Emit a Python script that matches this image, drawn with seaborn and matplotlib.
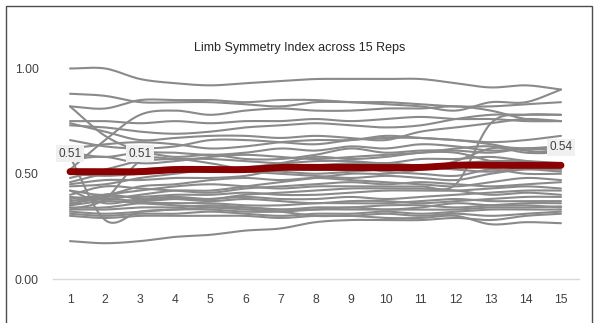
import numpy as np
import pandas as pd
import matplotlib
matplotlib.use("Agg")
import matplotlib.pyplot as plt
from matplotlib.patches import Rectangle
import seaborn as sns

# Repetition numbers on the x axis
reps = list(range(1, 16))

# Limb Symmetry Index per athlete, one list per athlete (reps 1..15)
athlete_01 = [1.00, 1.00, 0.95, 0.93, 0.92, 0.93, 0.94, 0.95, 0.95, 0.95, 0.95, 0.93, 0.91, 0.92, 0.90]
athlete_02 = [0.88, 0.87, 0.84, 0.84, 0.84, 0.83, 0.82, 0.84, 0.84, 0.84, 0.83, 0.82, 0.82, 0.83, 0.84]
athlete_03 = [0.82, 0.81, 0.85, 0.85, 0.85, 0.84, 0.85, 0.85, 0.84, 0.83, 0.82, 0.80, 0.84, 0.84, 0.90]
athlete_04 = [0.82, 0.68, 0.61, 0.60, 0.59, 0.60, 0.62, 0.61, 0.63, 0.62, 0.64, 0.63, 0.61, 0.62, 0.63]
athlete_05 = [0.75, 0.75, 0.74, 0.75, 0.74, 0.75, 0.75, 0.76, 0.75, 0.76, 0.77, 0.76, 0.76, 0.75, 0.75]
athlete_06 = [0.73, 0.72, 0.70, 0.69, 0.70, 0.72, 0.73, 0.74, 0.73, 0.72, 0.73, 0.76, 0.78, 0.78, 0.78]
athlete_07 = [0.74, 0.70, 0.66, 0.67, 0.68, 0.68, 0.67, 0.68, 0.67, 0.66, 0.70, 0.72, 0.74, 0.76, 0.75]
athlete_08 = [0.66, 0.63, 0.62, 0.63, 0.66, 0.66, 0.65, 0.64, 0.66, 0.67, 0.67, 0.66, 0.65, 0.66, 0.68]
athlete_09 = [0.52, 0.66, 0.78, 0.80, 0.78, 0.80, 0.81, 0.80, 0.80, 0.81, 0.81, 0.82, 0.80, 0.76, 0.75]
athlete_10 = [0.58, 0.28, 0.32, 0.33, 0.34, 0.34, 0.33, 0.33, 0.34, 0.33, 0.34, 0.36, 0.35, 0.35, 0.34]
athlete_11 = [0.60, 0.58, 0.60, 0.58, 0.59, 0.57, 0.57, 0.59, 0.62, 0.60, 0.61, 0.61, 0.60, 0.62, 0.61]
athlete_12 = [0.57, 0.58, 0.55, 0.56, 0.58, 0.59, 0.58, 0.57, 0.58, 0.59, 0.60, 0.62, 0.63, 0.60, 0.60]
athlete_13 = [0.48, 0.52, 0.56, 0.57, 0.57, 0.56, 0.55, 0.56, 0.56, 0.55, 0.57, 0.57, 0.58, 0.56, 0.54]
athlete_14 = [0.46, 0.50, 0.52, 0.53, 0.52, 0.53, 0.55, 0.58, 0.57, 0.58, 0.60, 0.60, 0.56, 0.53, 0.52]
athlete_15 = [0.44, 0.45, 0.48, 0.50, 0.52, 0.51, 0.50, 0.49, 0.48, 0.49, 0.48, 0.47, 0.50, 0.52, 0.51]
athlete_16 = [0.42, 0.40, 0.44, 0.45, 0.47, 0.48, 0.47, 0.48, 0.47, 0.46, 0.45, 0.44, 0.46, 0.48, 0.47]
athlete_17 = [0.40, 0.44, 0.43, 0.42, 0.41, 0.43, 0.44, 0.45, 0.46, 0.45, 0.46, 0.45, 0.44, 0.45, 0.46]
athlete_18 = [0.37, 0.39, 0.39, 0.40, 0.40, 0.41, 0.40, 0.40, 0.41, 0.42, 0.42, 0.42, 0.43, 0.44, 0.43]
athlete_19 = [0.36, 0.38, 0.37, 0.38, 0.38, 0.39, 0.38, 0.38, 0.39, 0.38, 0.39, 0.40, 0.41, 0.42, 0.42]
athlete_20 = [0.35, 0.40, 0.38, 0.38, 0.37, 0.38, 0.37, 0.36, 0.37, 0.37, 0.36, 0.37, 0.38, 0.39, 0.39]
athlete_21 = [0.34, 0.34, 0.36, 0.36, 0.36, 0.35, 0.35, 0.36, 0.36, 0.36, 0.37, 0.38, 0.37, 0.37, 0.37]
athlete_22 = [0.33, 0.33, 0.34, 0.34, 0.35, 0.34, 0.33, 0.34, 0.34, 0.35, 0.35, 0.34, 0.35, 0.36, 0.36]
athlete_23 = [0.32, 0.31, 0.32, 0.33, 0.33, 0.32, 0.32, 0.33, 0.33, 0.33, 0.33, 0.33, 0.34, 0.34, 0.345]
athlete_24 = [0.31, 0.30, 0.31, 0.31, 0.32, 0.31, 0.30, 0.31, 0.31, 0.32, 0.31, 0.32, 0.33, 0.33, 0.33]
athlete_25 = [0.30, 0.29, 0.30, 0.30, 0.30, 0.30, 0.29, 0.30, 0.30, 0.31, 0.30, 0.31, 0.30, 0.31, 0.32]
athlete_26 = [0.18, 0.17, 0.18, 0.20, 0.21, 0.23, 0.24, 0.27, 0.28, 0.28, 0.28, 0.29, 0.28, 0.30, 0.31]
athlete_27 = [0.33, 0.38, 0.56, 0.57, 0.55, 0.52, 0.51, 0.50, 0.51, 0.52, 0.53, 0.52, 0.51, 0.53, 0.52]
athlete_28 = [0.45, 0.47, 0.47, 0.48, 0.48, 0.49, 0.52, 0.52, 0.53, 0.51, 0.50, 0.49, 0.52, 0.50, 0.50]
athlete_29 = [0.38, 0.40, 0.42, 0.44, 0.45, 0.44, 0.43, 0.44, 0.44, 0.44, 0.44, 0.45, 0.74, 0.78, 0.78]
athlete_30 = [0.35, 0.37, 0.36, 0.35, 0.34, 0.33, 0.32, 0.30, 0.30, 0.29, 0.29, 0.30, 0.26, 0.27, 0.265]
athlete_31 = [0.39, 0.38, 0.40, 0.42, 0.42, 0.44, 0.46, 0.48, 0.50, 0.50, 0.52, 0.56, 0.62, 0.62, 0.61]
athlete_32 = [0.42, 0.36, 0.38, 0.39, 0.38, 0.40, 0.41, 0.42, 0.43, 0.43, 0.43, 0.42, 0.40, 0.41, 0.40]
athlete_33 = [0.62, 0.64, 0.65, 0.64, 0.62, 0.63, 0.65, 0.66, 0.66, 0.68, 0.67, 0.66, 0.64, 0.61, 0.60]
athlete_34 = [0.50, 0.49, 0.50, 0.51, 0.52, 0.53, 0.53, 0.54, 0.55, 0.55, 0.54, 0.55, 0.56, 0.56, 0.55]

athletes = [athlete_01, athlete_02, athlete_03, athlete_04, athlete_05, athlete_06, athlete_07,
            athlete_08, athlete_09, athlete_10, athlete_11, athlete_12, athlete_13, athlete_14,
            athlete_15, athlete_16, athlete_17, athlete_18, athlete_19, athlete_20, athlete_21,
            athlete_22, athlete_23, athlete_24, athlete_25, athlete_26, athlete_27, athlete_28,
            athlete_29, athlete_30, athlete_31, athlete_32, athlete_33, athlete_34]

# Group average per rep
group_mean = [0.51, 0.51, 0.51, 0.52, 0.52, 0.52, 0.53, 0.53, 0.53, 0.53, 0.53, 0.54, 0.54, 0.54, 0.54]

# Reps whose average is labelled
labelled_reps = [1, 3, 15]

y_ticks = [0.0, 0.5, 1.0]
title = "Limb Symmetry Index across 15 Reps"


def smooth(xs, ys, n=12):
    """Catmull-Rom style smoothing used for rendering the curves."""
    xs = np.asarray(xs, float)
    ys = np.asarray(ys, float)
    px = np.concatenate([[2 * xs[0] - xs[1]], xs, [2 * xs[-1] - xs[-2]]])
    py = np.concatenate([[2 * ys[0] - ys[1]], ys, [2 * ys[-1] - ys[-2]]])
    out_x, out_y = [], []
    t = np.linspace(0, 1, n, endpoint=False)
    for i in range(1, len(px) - 2):
        for arr, out in ((px, out_x), (py, out_y)):
            p0, p1, p2, p3 = arr[i - 1], arr[i], arr[i + 1], arr[i + 2]
            seg = 0.5 * ((2 * p1) + (-p0 + p2) * t + (2 * p0 - 5 * p1 + 4 * p2 - p3) * t ** 2
                         + (-p0 + 3 * p1 - 3 * p2 + p3) * t ** 3)
            out.extend(seg)
    out_x.append(xs[-1])
    out_y.append(ys[-1])
    return np.array(out_x), np.array(out_y)


rows = []
for k, vals in enumerate(athletes):
    sx, sy = smooth(reps, vals)
    rows.append(pd.DataFrame({"rep": sx, "lsi": sy, "athlete": k}))
df = pd.concat(rows, ignore_index=True)

mx, my = smooth(reps, group_mean)
df_mean = pd.DataFrame({"rep": mx, "lsi": my})

sns.set_theme(style="white")
plt.rcParams["font.family"] = ["Liberation Sans", "DejaVu Sans"]

W, H = 597, 323
fig = plt.figure(figsize=(W / 100, H / 100), dpi=100)
fig.patch.set_facecolor("white")

left, right = 52.5 / W, 578.5 / W
bottom, top = (H - 279) / H, (H - 68.5) / H
ax = fig.add_axes([left, bottom, right - left, top - bottom])

sns.lineplot(data=df, x="rep", y="lsi", units="athlete", estimator=None,
             color="#8a8a8a", linewidth=1.5, ax=ax, legend=False, sort=False)
sns.lineplot(data=df_mean, x="rep", y="lsi", color="#8b0000", linewidth=5.0,
             ax=ax, legend=False, sort=False, solid_capstyle="round")
for line in ax.get_lines():
    line.set_clip_on(False)

for r in labelled_reps:
    v = group_mean[r - 1]
    ax.annotate(f"{v:.2f}", xy=(r, v), xytext=(0, 13), textcoords="offset points",
                ha="center", va="center", fontsize=8.5, color="#404040",
                bbox=dict(boxstyle="square,pad=0.2", facecolor="#f0f0f0", edgecolor="none"))

ax.set_xlim(0.5, 15.5)
ax.set_ylim(0, 1.0)
ax.set_xticks(reps)
ax.set_xticklabels([str(r) for r in reps])
ax.set_yticks(y_ticks)
ax.set_yticklabels([f"{v:.2f}" for v in y_ticks])
ax.tick_params(axis="both", length=0, labelsize=8.8, labelcolor="#404040")
ax.tick_params(axis="x", pad=11)
ax.tick_params(axis="y", pad=10)
ax.set_xlabel("")
ax.set_ylabel("")
for s in ("top", "right", "left"):
    ax.spines[s].set_visible(False)
ax.spines["bottom"].set_color("#d9d9d9")
ax.spines["bottom"].set_linewidth(1.0)
ax.set_facecolor("white")

fig.text(300 / W, 1 - 48 / H, title, ha="center", va="center", fontsize=9, color="#262626")

# Outer chart frame
fig.add_artist(Rectangle((6 / W, -0.1), (592 - 6) / W, 1 - 6 / H + 0.1,
                         transform=fig.transFigure, fill=False,
                         edgecolor="#4d4d4d", linewidth=1.0))

fig.savefig("out.png", dpi=100)
